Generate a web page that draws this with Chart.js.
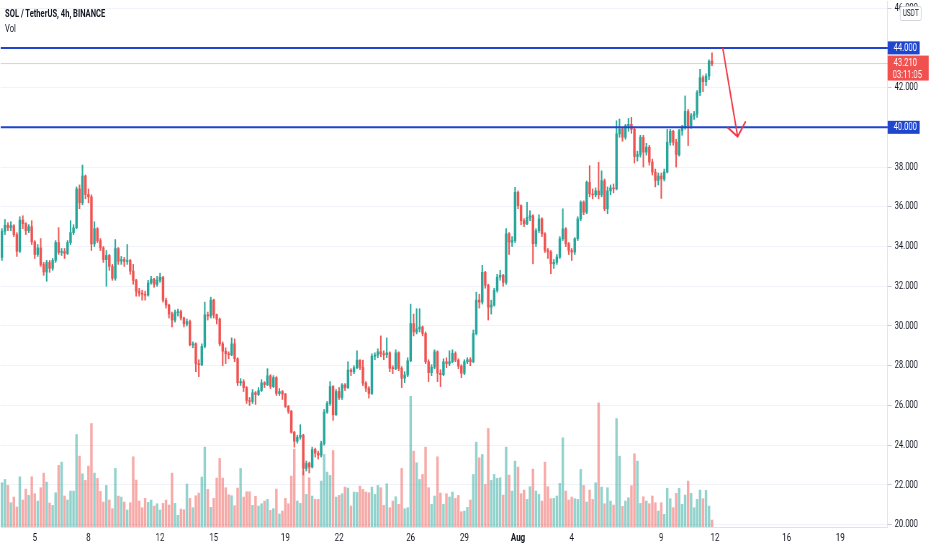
<!DOCTYPE html>
<html>
<head>
<meta charset="utf-8">
<script src="https://cdn.jsdelivr.net/npm/chart.js@4.4.1/dist/chart.umd.min.js"></script>
<style>
  html, body { margin: 0; padding: 0; background: #fff; }
  #moldura { position: relative; width: 932px; height: 550px; overflow: hidden; }
  /* o print original vem comprimido na horizontal */
  #wrap { position: absolute; left: 0; top: 0; width: 1294px; height: 550px; transform: scaleX(0.72); transform-origin: 0 0; }
  #titulo { position: absolute; left: 7px; top: 7px; font: bold 10.5px Roboto, sans-serif; color: #131722; }
  #vol { position: absolute; left: 7px; top: 22px; font: 10.5px Roboto, sans-serif; color: #131722; }
</style>
</head>
<body>
<div id="moldura">
<div id="wrap">
  <canvas id="grafico"></canvas>
  <div id="titulo">SOL / TetherUS, 4h, BINANCE</div>
  <div id="vol">Vol</div>
</div>
</div>
<script>
// === VELAS 4h ===
const opens = [
  33.45, 34.77, 35.07, 34.95, 35.05, 34.60, 33.76, 35.33, 35.15, 34.80,
  35.00, 34.23, 33.60, 33.93, 33.09, 32.72, 33.20, 32.90, 33.30, 34.20,
  33.70, 33.75, 33.65, 34.20, 34.70, 34.94, 36.90, 36.20, 37.55, 36.62,
  36.50, 34.13, 34.90, 34.30, 33.93, 33.34, 33.55, 33.00, 32.40, 33.90,
  33.26, 33.35, 33.25, 33.30, 32.76, 32.29, 31.75, 31.65, 31.60, 31.55,
  32.17, 32.35, 32.10, 32.30, 32.45, 31.30, 31.05, 30.60, 30.30, 30.67,
  30.72, 30.40, 30.10, 30.22, 29.05, 29.10, 28.10, 28.05, 28.97, 30.56,
  30.50, 31.30, 30.56, 30.34, 29.10, 28.73, 28.60, 28.55, 29.10, 28.35,
  27.14, 27.20, 26.90, 26.25, 26.20, 26.64, 26.55, 26.75, 27.14, 27.05,
  27.49, 26.95, 27.40, 26.60, 26.70, 26.58, 25.95, 25.70, 24.65, 24.20,
  24.40, 24.50, 22.83, 23.08, 22.90, 23.78, 23.60, 23.50, 24.08, 25.67,
  26.10, 26.95, 25.53, 26.70, 26.40, 27.03, 26.90, 27.78, 27.70, 27.90,
  28.28, 27.92, 27.12, 26.87, 26.60, 28.48, 28.53, 28.70, 28.60, 28.55,
  28.65, 27.87, 27.85, 28.65, 27.87, 27.37, 27.53, 28.25, 30.12, 29.70,
  29.85, 29.95, 29.62, 28.20, 27.65, 27.92, 28.70, 27.62, 27.55, 28.20,
  28.10, 28.20, 28.62, 28.28, 27.98, 27.62, 28.20, 28.30, 28.20, 29.62,
  31.30, 31.20, 32.70, 32.05, 30.95, 31.05, 31.79, 32.46, 32.55, 32.20,
  34.64, 34.22, 34.30, 36.73, 36.06, 35.30, 35.14, 35.47, 35.55, 34.14,
  34.80, 35.39, 34.64, 33.80, 33.72, 33.13, 33.20, 33.47, 34.39, 34.89,
  34.14, 33.80, 33.72, 34.39, 35.39, 36.23, 35.73, 37.23, 36.65, 36.60,
  36.80, 36.60, 37.31, 35.90, 36.80, 36.95, 36.90, 39.67, 39.92, 39.50,
  40.08, 40.15, 39.90, 38.53, 38.63, 39.50, 38.75, 39.00, 38.25, 37.75,
  37.33, 37.55, 37.40, 37.75, 39.25, 39.80, 39.25, 38.63, 39.83, 40.00,
  40.80, 40.08, 40.58, 40.67, 41.75, 42.50, 42.30, 42.58, 43.33
];
const highs = [
  34.90, 35.36, 35.20, 35.25, 35.10, 34.70, 35.50, 35.55, 35.20, 35.10,
  35.30, 34.30, 34.10, 34.40, 33.20, 33.30, 33.30, 33.40, 34.30, 34.95,
  33.90, 33.90, 34.30, 35.30, 35.10, 37.00, 37.10, 38.10, 37.60, 36.90,
  36.60, 35.25, 34.95, 34.40, 34.00, 33.80, 33.60, 33.10, 34.35, 33.95,
  33.50, 33.45, 34.10, 33.35, 33.10, 32.35, 31.90, 31.80, 31.75, 32.30,
  32.50, 32.40, 32.50, 32.66, 32.50, 31.40, 31.10, 30.70, 30.80, 30.85,
  30.80, 30.45, 30.35, 30.30, 29.20, 29.15, 28.30, 29.10, 31.20, 30.70,
  31.45, 31.35, 30.60, 30.40, 29.20, 28.90, 28.70, 29.40, 29.35, 28.40,
  27.35, 27.30, 26.95, 26.40, 26.80, 26.70, 26.90, 27.30, 27.20, 27.85,
  27.55, 27.50, 27.45, 26.85, 26.75, 26.60, 26.00, 25.75, 24.70, 24.50,
  25.03, 24.55, 23.20, 23.15, 23.90, 23.85, 23.70, 24.20, 25.80, 26.20,
  27.20, 27.00, 26.80, 26.90, 27.10, 27.10, 28.20, 27.85, 28.00, 28.75,
  28.30, 28.28, 27.20, 26.95, 28.60, 28.65, 28.85, 29.50, 28.75, 29.40,
  28.70, 28.00, 28.80, 28.70, 27.95, 27.70, 28.40, 31.10, 30.60, 30.87,
  30.87, 30.00, 29.70, 28.30, 28.05, 28.80, 28.75, 27.80, 28.35, 28.40,
  28.75, 28.80, 28.70, 28.35, 28.05, 28.30, 28.40, 28.40, 29.80, 31.70,
  31.60, 33.05, 32.75, 32.10, 31.30, 31.90, 32.60, 32.80, 32.60, 34.90,
  34.70, 34.50, 36.98, 36.80, 36.10, 35.40, 36.23, 35.80, 35.60, 34.90,
  35.60, 35.45, 34.70, 33.90, 33.80, 33.35, 33.60, 34.50, 35.90, 34.95,
  34.20, 33.90, 34.45, 35.50, 36.30, 36.30, 37.30, 38.07, 36.90, 36.95,
  38.24, 37.81, 37.40, 37.00, 37.10, 37.15, 40.33, 40.42, 40.00, 40.15,
  40.45, 40.50, 40.00, 38.80, 39.60, 39.60, 39.20, 39.10, 38.40, 37.90,
  37.70, 37.70, 37.90, 39.90, 39.90, 39.85, 39.40, 39.90, 40.10, 41.58,
  40.90, 40.70, 40.80, 41.85, 42.92, 42.60, 42.70, 43.40, 43.75
];
const lows = [
  33.30, 34.60, 34.80, 34.80, 34.50, 33.50, 33.70, 34.90, 34.60, 34.70,
  34.10, 33.40, 33.50, 33.00, 32.55, 32.25, 32.70, 32.80, 33.20, 33.60,
  33.55, 33.40, 33.60, 34.10, 34.60, 34.90, 35.90, 36.10, 36.40, 36.20,
  33.80, 34.00, 34.20, 33.80, 33.20, 32.00, 32.80, 32.30, 32.30, 33.10,
  33.10, 33.00, 33.10, 32.60, 32.10, 31.50, 31.50, 31.30, 31.30, 31.50,
  32.10, 31.95, 32.00, 32.20, 31.20, 30.90, 30.40, 29.95, 30.20, 30.50,
  30.30, 29.95, 30.00, 29.00, 28.90, 27.70, 27.45, 28.00, 28.90, 30.30,
  30.40, 30.40, 30.10, 29.00, 28.00, 28.10, 28.35, 28.50, 28.20, 27.00,
  27.00, 26.70, 26.10, 26.00, 26.10, 26.05, 26.50, 26.70, 26.90, 27.00,
  26.85, 26.90, 26.50, 26.50, 26.30, 25.90, 25.60, 24.60, 23.90, 24.10,
  24.30, 22.50, 22.70, 22.60, 22.85, 23.40, 23.30, 23.40, 24.00, 25.60,
  26.00, 25.25, 25.50, 26.30, 26.30, 26.75, 26.85, 27.50, 27.60, 27.85,
  27.80, 27.00, 26.70, 26.37, 26.55, 28.30, 28.40, 28.45, 28.30, 28.40,
  27.70, 27.60, 27.80, 27.75, 26.90, 27.15, 27.45, 28.20, 29.50, 29.60,
  29.70, 29.50, 28.10, 27.20, 27.50, 27.85, 27.20, 26.95, 27.50, 27.90,
  28.00, 28.15, 28.20, 27.85, 27.40, 27.55, 28.10, 28.00, 28.15, 29.55,
  30.90, 31.10, 31.90, 30.30, 30.60, 31.00, 31.70, 32.30, 32.00, 32.10,
  33.60, 34.00, 34.20, 35.90, 35.10, 35.00, 35.10, 35.30, 33.13, 34.00,
  34.70, 34.50, 33.70, 33.40, 32.63, 32.90, 33.10, 33.40, 34.30, 34.00,
  33.60, 33.30, 33.60, 34.30, 35.30, 35.60, 35.65, 36.50, 36.40, 36.50,
  36.40, 36.50, 35.80, 35.65, 36.60, 36.70, 36.85, 39.50, 39.30, 39.40,
  39.80, 39.70, 38.20, 38.30, 38.50, 38.00, 38.60, 38.10, 37.60, 37.00,
  37.10, 36.42, 37.30, 37.70, 39.10, 39.10, 38.00, 38.55, 39.60, 39.90,
  39.08, 39.95, 40.40, 40.50, 41.60, 41.80, 42.10, 42.40, 43.10
];
const closes = [
  34.77, 35.07, 34.95, 35.05, 34.60, 33.76, 35.33, 35.15, 34.80, 35.00,
  34.23, 33.60, 33.93, 33.09, 32.72, 33.20, 32.90, 33.30, 34.20, 33.70,
  33.75, 33.65, 34.20, 34.70, 34.94, 36.90, 36.20, 37.55, 36.62, 36.50,
  34.13, 34.90, 34.30, 33.93, 33.34, 33.55, 33.00, 32.40, 33.90, 33.26,
  33.35, 33.25, 33.30, 32.76, 32.29, 31.75, 31.65, 31.60, 31.55, 32.17,
  32.35, 32.10, 32.30, 32.45, 31.30, 31.05, 30.60, 30.30, 30.67, 30.72,
  30.40, 30.10, 30.22, 29.05, 29.10, 28.10, 28.05, 28.97, 30.56, 30.50,
  31.30, 30.56, 30.34, 29.10, 28.73, 28.60, 28.55, 29.10, 28.35, 27.14,
  27.20, 26.90, 26.25, 26.20, 26.64, 26.55, 26.75, 27.14, 27.05, 27.49,
  26.95, 27.40, 26.60, 26.70, 26.58, 25.95, 25.70, 24.65, 24.20, 24.40,
  24.50, 22.83, 23.08, 22.90, 23.78, 23.60, 23.50, 24.08, 25.67, 26.10,
  26.95, 25.53, 26.70, 26.40, 27.03, 26.90, 27.78, 27.70, 27.90, 28.28,
  27.92, 27.12, 26.87, 26.60, 28.48, 28.53, 28.70, 28.60, 28.55, 28.65,
  27.87, 27.85, 28.65, 27.87, 27.37, 27.53, 28.25, 30.12, 29.70, 29.85,
  29.95, 29.62, 28.20, 27.65, 27.92, 28.70, 27.62, 27.55, 28.20, 28.10,
  28.20, 28.62, 28.28, 27.98, 27.62, 28.20, 28.30, 28.20, 29.62, 31.30,
  31.20, 32.70, 32.05, 30.95, 31.05, 31.79, 32.46, 32.55, 32.20, 34.64,
  34.22, 34.30, 36.73, 36.06, 35.30, 35.14, 35.47, 35.55, 34.14, 34.80,
  35.39, 34.64, 33.80, 33.72, 33.13, 33.20, 33.47, 34.39, 34.89, 34.14,
  33.80, 33.72, 34.39, 35.39, 36.23, 35.73, 37.23, 36.65, 36.60, 36.80,
  36.60, 37.31, 35.90, 36.80, 36.95, 36.90, 39.67, 39.92, 39.50, 40.08,
  40.15, 39.90, 38.53, 38.63, 39.50, 38.75, 39.00, 38.25, 37.75, 37.33,
  37.55, 37.40, 37.75, 39.25, 39.80, 39.25, 38.63, 39.83, 40.00, 40.80,
  40.08, 40.58, 40.67, 41.75, 42.50, 42.30, 42.58, 43.33, 43.21
];
// volume por vela (mil SOL, estimado)
const volumes = [
  665, 715, 625, 365, 450, 300, 755, 405, 570, 475,
  755, 500, 390, 590, 810, 675, 360, 325, 515, 925,
  975, 465, 405, 540, 540, 1390, 1065, 800, 700, 915,
  1555, 810, 730, 535, 375, 625, 405, 275, 880, 465,
  450, 375, 255, 365, 1055, 705, 390, 290, 430, 370,
  405, 315, 350, 255, 355, 405, 330, 810, 355, 175,
  270, 260, 645, 430, 290, 470, 510, 750, 1200, 565,
  295, 430, 735, 1030, 735, 590, 485, 470, 320, 585,
  880, 450, 530, 530, 325, 460, 315, 350, 390, 415,
  250, 275, 570, 195, 240, 430, 350, 765, 1170, 390,
  355, 840, 490, 740, 465, 415, 415, 690, 1090, 825,
  775, 1150, 450, 475, 500, 600, 585, 315, 525, 520,
  615, 565, 525, 515, 600, 490, 625, 590, 325, 650,
  290, 390, 455, 340, 880, 275, 290, 1965, 1140, 965,
  715, 790, 1200, 590, 340, 465, 1055, 510, 340, 500,
  450, 525, 430, 475, 230, 240, 295, 405, 790, 1275,
  1040, 1090, 640, 1480, 700, 790, 730, 740, 480, 1200,
  780, 540, 990, 900, 500, 555, 415, 605, 870, 540,
  490, 390, 975, 605, 425, 430, 465, 655, 1340, 540,
  405, 450, 425, 415, 865, 625, 375, 555, 415, 665,
  1865, 600, 350, 590, 390, 330, 1630, 1065, 310, 390,
  440, 620, 1100, 990, 355, 455, 390, 350, 465, 365,
  240, 365, 190, 580, 425, 290, 505, 580, 340, 480,
  690, 505, 290, 415, 555, 425, 550, 315, 105
];

// === EIXOS ===
const inicio = Date.UTC(2021, 6, 3, 4); // primeira vela: 3 jul 04:00
const diasEixo = ["2021-07-05", "2021-07-08", "2021-07-12", "2021-07-15", "2021-07-19",
  "2021-07-22", "2021-07-26", "2021-07-29", "2021-08-01", "2021-08-04", "2021-08-09",
  "2021-08-12", "2021-08-16", "2021-08-19"];
const rotulosDias = ["5", "8", "12", "15", "19", "22", "26", "29", "Aug", "4", "9", "12", "16", "19"];
const ticksPreco = [20, 22, 24, 26, 28, 30, 32, 34, 36, 38, 40, 42, 44, 46];

// === DESENHOS ===
const niveis = [44, 40];
const precoAtual = 43.21;
const contagem = "03:11:05";
const setaX = [241.6, 246.6];
const setaY = [44.0, 39.53];
const pontaX = [243.2, 246.6, 249.3];
const pontaY = [40.0, 39.53, 40.3];

const X_MIN = -0.4, X_MAX = 296.9;
const K = 1 / 0.72; // compensa a compressão horizontal
const VERDE = "#26a69a", VERMELHO = "#ef5350", AZUL = "#1f45cc";
const FONTE = "Roboto, sans-serif";

const velaIdx = (d) => (Date.parse(d + "T00:00:00Z") - inicio) / (4 * 3600 * 1000);
const sobe = opens.map((o, i) => closes[i] >= o);
const corVela = sobe.map((s) => (s ? VERDE : VERMELHO));
const corVol = sobe.map((s) => (s ? "rgba(38,166,154,0.5)" : "rgba(239,83,80,0.5)"));

const linha = (pts, cor, largura, ordem) => ({
  type: "line",
  data: pts,
  borderColor: cor,
  borderWidth: largura,
  pointRadius: 0,
  yAxisID: "y",
  order: ordem,
});

const rotulosPreco = {
  id: "rotulosPreco",
  afterDraw(chart) {
    const { ctx, chartArea, scales } = chart;
    const x0 = chartArea.right;
    ctx.save();
    ctx.font = "10.5px " + FONTE;
    ctx.textBaseline = "middle";
    ctx.textAlign = "left";
    niveis.forEach((n) => {
      const y = scales.y.getPixelForValue(n);
      ctx.fillStyle = AZUL;
      ctx.fillRect(x0, y - 6.5, 32 * K, 13);
      ctx.fillStyle = "#fff";
      ctx.fillText(n.toFixed(3), x0 + 6 * K, y + 0.5);
    });
    const yp = scales.y.getPixelForValue(precoAtual);
    ctx.fillStyle = "#f0514f";
    ctx.fillRect(x0, yp - 8, 41 * K, 25);
    ctx.fillStyle = "#fff";
    ctx.fillText(precoAtual.toFixed(3), x0 + 6 * K, yp);
    ctx.fillText(contagem, x0 + 5 * K, yp + 12);
    // caixa da moeda
    ctx.fillStyle = "#fff";
    ctx.strokeStyle = "#d1d4dc";
    ctx.lineWidth = 1;
    ctx.beginPath();
    ctx.roundRect(x0 + 12.5 * K, 6.5, 21 * K, 14, 2);
    ctx.fill();
    ctx.stroke();
    ctx.fillStyle = "#131722";
    ctx.font = "9px " + FONTE;
    ctx.textAlign = "center";
    ctx.fillText("USDT", x0 + 23 * K, 14);
    ctx.restore();
  },
};

new Chart(document.getElementById("grafico").getContext("2d"), {
  type: "bar",
  data: {
    datasets: [
      linha(setaX.map((x, i) => ({ x, y: setaY[i] })), "#f23645", 2, 0),
      linha(pontaX.map((x, i) => ({ x, y: pontaY[i] })), "#f23645", 2, 0),
      ...niveis.map((n) => linha([{ x: X_MIN, y: n }, { x: X_MAX, y: n }], AZUL, 2, 0)),
      linha([{ x: X_MIN, y: precoAtual }, { x: X_MAX, y: precoAtual }], "rgba(242,54,69,0.3)", 1, 1),
      {
        label: "Corpo",
        data: opens.map((o, i) => ({ x: i, y: [o, closes[i]] })),
        backgroundColor: corVela,
        barThickness: 2 * K,
        minBarLength: 1,
        grouped: false,
        yAxisID: "y",
        order: 2,
      },
      {
        label: "Pavio",
        data: lows.map((l, i) => ({ x: i, y: [l, highs[i]] })),
        backgroundColor: corVela,
        barThickness: 1 * K,
        grouped: false,
        yAxisID: "y",
        order: 3,
      },
      {
        label: "Vol",
        data: volumes.map((v, i) => ({ x: i, y: v })),
        backgroundColor: corVol,
        barThickness: 2 * K,
        grouped: false,
        yAxisID: "yv",
        order: 4,
      },
    ],
  },
  options: {
    responsive: true,
    maintainAspectRatio: false,
    animation: false,
    layout: { padding: 0 },
    plugins: { legend: { display: false }, tooltip: { enabled: false } },
    scales: {
      x: {
        type: "linear",
        min: X_MIN,
        max: X_MAX,
        offset: false,
        grid: { display: false, drawTicks: false },
        border: { display: true, color: "#e0e3eb" },
        afterBuildTicks: (s) => { s.ticks = diasEixo.map((d) => ({ value: velaIdx(d) })); },
        afterFit: (s) => { s.height = 23; s.paddingLeft = 0; s.paddingRight = 0; },
        ticks: {
          autoSkip: false,
          maxRotation: 0,
          padding: 5,
          color: "#131722",
          font: (c) => ({ family: FONTE, size: 11, weight: c.index === 8 ? "bold" : "normal" }),
          callback: (v, i) => rotulosDias[i],
        },
      },
      y: {
        position: "right",
        min: 19.88,
        max: 46.36,
        grid: { color: "#f0f3fa", drawTicks: true, tickLength: 4 * K, tickColor: "#c8cbd3" },
        border: { display: true, color: "#e0e3eb" },
        afterBuildTicks: (s) => { s.ticks = ticksPreco.map((v) => ({ value: v })); },
        afterFit: (s) => { s.width = 44 * K; s.paddingTop = 0; s.paddingBottom = 0; },
        ticks: {
          padding: 3 * K,
          color: "#131722",
          font: { family: FONTE, size: 10.5 },
          callback: (v) => Number(v).toFixed(3),
        },
      },
      yv: { display: false, min: 0, max: 7905 },
    },
  },
  plugins: [rotulosPreco],
});
</script>
</body>
</html>
